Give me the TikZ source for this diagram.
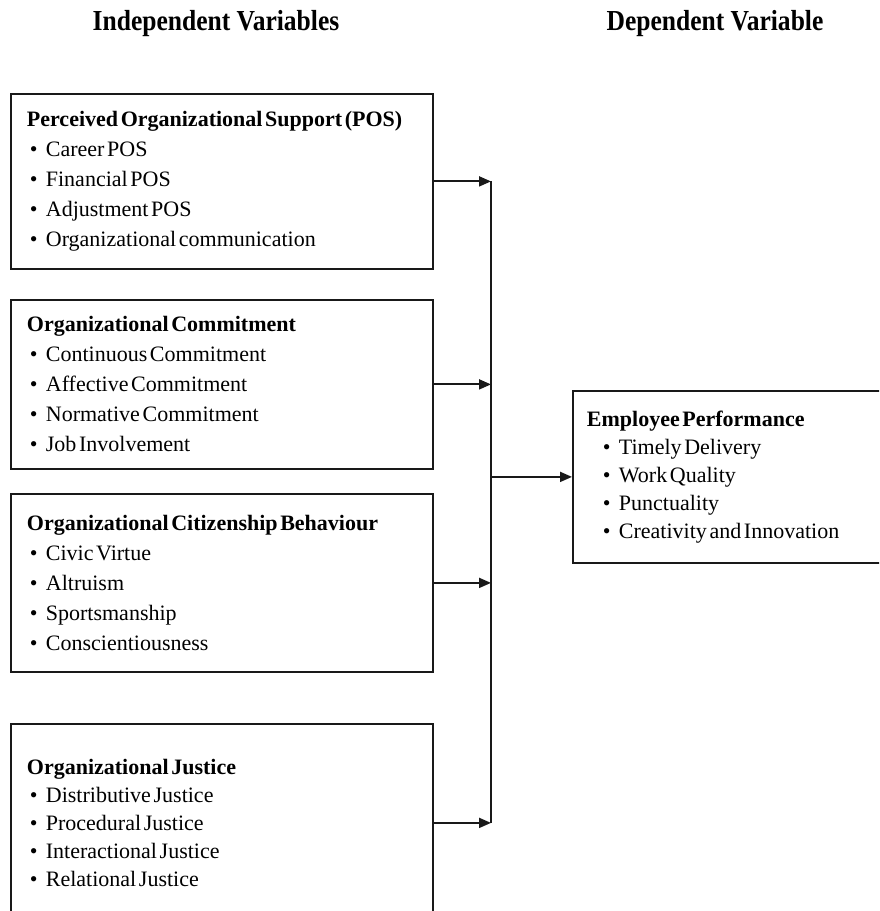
\documentclass[tikz,border=0pt]{standalone}
\usepackage{fontspec}
\setmainfont{Liberation Serif}
\usetikzlibrary{arrows.meta}
\newcommand\itm[2][3pt]{\\\hspace*{#1}\makebox[16pt][l]{\textbullet}#2}
\newcommand\headtxt[1]{\scalebox{0.88}[1]{\fontsize{29}{30}\selectfont\bfseries #1}}
\newcommand\tightspace{\spaceskip=0.12em plus 0.1em minus 0.04em\relax}
\tikzset{
  head/.style={inner sep=0pt},
  varbox/.style={draw=black!90, line width=1.8pt, anchor=north west, inner xsep=16pt, inner ysep=0pt, align=left, font=\fontsize{22}{30}\selectfont, execute at begin node=\tightspace},
  link/.style={-{Triangle[length=12pt, width=10pt]}, line width=1.9pt, draw=black!90},
  bus/.style={line width=1.9pt, draw=black!90}
}

\begin{document}
\begin{tikzpicture}[x=1pt, y=-1pt]
  \useasboundingbox (0,0) rectangle (879,911);
  \clip (0,0) rectangle (879,911);

  \node[head] (indep) at (216,24) {\headtxt{Independent Variables}};
  \node[head] (dep) at (715,24) {\headtxt{Dependent Variable}};

  \node[varbox, text width=390pt, minimum height=175pt] (pos) at (10,93) {\textbf{Perceived Organizational Support (POS)}\itm{Career POS}\itm{Financial POS}\itm{Adjustment POS}\itm{Organizational communication}};
  \node[varbox, text width=390pt, minimum height=169pt] (commit) at (10,299) {\textbf{Organizational Commitment}\itm{Continuous Commitment}\itm{Affective Commitment}\itm{Normative Commitment}\itm{Job Involvement}};
  \node[varbox, text width=390pt, minimum height=178pt] (ocb) at (10,493) {\textbf{Organizational Citizenship Behaviour}\itm{Civic Virtue}\itm{Altruism}\itm{Sportsmanship}\itm{Conscientiousness}};
  \node[varbox, text width=390pt, minimum height=198pt, font=\fontsize{22}{28}\selectfont] (just) at (10,723) {\textbf{Organizational Justice}\itm{Distributive Justice}\itm{Procedural Justice}\itm{Interactional Justice}\itm{Relational Justice}};

  \node[varbox, text width=290pt, inner xsep=14pt, minimum height=172pt, font=\fontsize{22}{28}\selectfont] (perf) at (572,390) {\textbf{Employee Performance}\itm[16pt]{Timely Delivery}\itm[16pt]{Work Quality}\itm[16pt]{Punctuality}\itm[16pt]{Creativity and Innovation}};

  % collecting line
  \coordinate (trunk) at (491,0);
  \draw[bus] (pos.east -| trunk) -- (just.east -| trunk);
  \foreach \src in {pos,commit,ocb,just}
    \draw[link] (\src.east) -- (\src.east -| trunk);
  \draw[link] (trunk |- perf.west) -- (perf.west);
\end{tikzpicture}
\end{document}
